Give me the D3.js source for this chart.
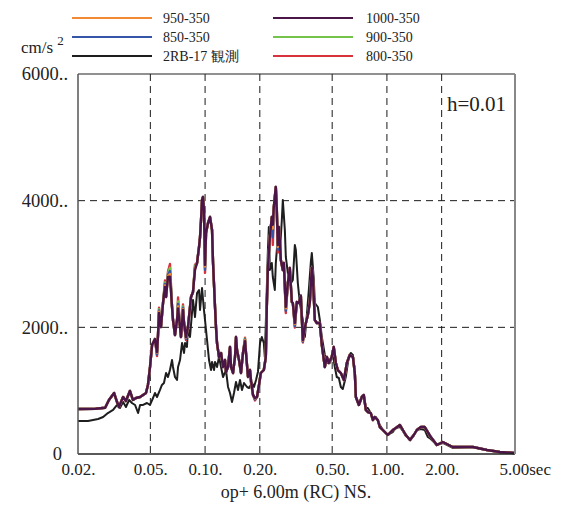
<!DOCTYPE html>
<html><head><meta charset="utf-8">
<script src="https://cdn.jsdelivr.net/npm/d3@7"></script>
<style>body{margin:0;background:#fff} svg{display:block} text{font-family:"Liberation Serif","DejaVu Serif","Noto Serif",serif}</style>
</head><body>
<svg id="c" width="567" height="505"></svg>
<script>
// ---- data ----
const periodsModel = [0.02,0.025,0.0282,0.0296,0.0316,0.0328,0.0336,0.0354,0.0367,0.0386,
0.0401,0.0417,0.0439,0.0456,0.0473,0.0485,0.0498,0.0511,0.0530,0.0544,
0.0551,0.0558,0.0572,0.0587,0.0602,0.0610,0.0625,0.0641,0.0658,0.0666,
0.0683,0.0701,0.0710,0.0728,0.0737,0.0756,0.0766,0.0785,0.0805,0.0837,
0.0858,0.0880,0.0903,0.0926,0.0938,0.0950,0.0962,0.0974,0.0986,0.0999,
0.1012,0.1038,0.1064,0.1092,0.1106,0.1134,0.1148,0.1163,0.1193,0.1224,
0.1255,0.1287,0.1303,0.1337,0.1371,0.1389,0.1424,0.1461,0.1479,0.1498,
0.1537,0.1576,0.1616,0.1658,0.1679,0.1722,0.1766,0.1789,0.1835,0.1882,
0.1930,0.1980,0.2025,0.2104,0.2158,0.2185,0.2213,0.2270,0.2328,0.2358,
0.2388,0.2449,0.2480,0.2512,0.2544,0.2576,0.2610,0.2676,0.2710,0.2780,
0.2852,0.2924,0.3000,0.3038,0.3116,0.3196,0.3278,0.3362,0.3448,0.3538,
0.3674,0.3768,0.3864,0.3914,0.4014,0.4116,0.4276,0.4386,0.4556,0.4674,
0.4790,0.4970,0.5100,0.5240,0.5370,0.5580,0.5800,0.6020,0.6250,0.6500,
0.6660,0.6750,0.7010,0.7280,0.7460,0.7660,0.7850,0.8150,0.8370,0.8580,
0.8910,0.9140,0.9500,0.9860,1.012,1.051,1.078,1.120,1.178,1.224,
1.270,1.340,1.406,1.461,1.537,1.616,1.679,1.744,1.882,2.030,
2.300,2.970,3.550,4.180,5.000];

const s1000_350 = [711,715,730,853,963,821,742,900,837,995,
853,884,900,932,963,1090,1374,1720,1816,1611,
1880,2226,2005,2384,2637,2479,2795,2800,2321,2116,
1879,2116,2300,2005,1847,2274,2068,1847,2005,2479,
2558,2905,3016,3268,3426,3695,4011,4058,3853,2984,
3490,3650,3742,3537,3016,2321,2005,1753,1532,1595,
1374,1484,1295,1374,1690,1374,1279,1532,1847,1642,
1484,1279,1595,1780,1595,1216,1326,1168,932,884,
900,1090,1279,1326,1532,2321,2905,3426,3742,3620,
3900,4216,3853,3300,3584,3379,3063,2905,3016,2321,
2700,2937,2400,2384,2068,2400,2384,2500,1800,2000,
2195,2400,2937,2800,2116,2068,2068,1721,1374,1532,
1437,1532,1690,1437,1326,1279,1168,1437,1563,1532,
1279,900,774,900,932,695,663,647,537,584,
537,426,379,332,300,347,379,411,458,379,
300,221,300,379,426,426,347,268,142,189,
111,111,63,32,16];

const s950_350 = [711,715,730,853,963,821,742,900,837,995,
853,884,900,932,963,1090,1374,1720,1816,1600,
1880,2245,2005,2384,2660,2479,2810,2840,2321,2116,
1879,2116,2330,2005,1847,2290,2068,1838,2005,2479,
2558,2925,3016,3268,3426,3695,4011,4058,3853,2960,
3490,3650,3742,3537,3016,2321,2005,1753,1532,1595,
1374,1484,1295,1374,1690,1374,1279,1532,1847,1642,
1484,1279,1595,1795,1595,1216,1326,1158,932,876,
900,1090,1279,1326,1532,2321,2905,3426,3742,3560,
3900,4216,3853,3270,3584,3379,3063,2905,3016,2300,
2700,2937,2400,2384,2050,2400,2384,2500,1790,2000,
2195,2400,2937,2800,2116,2068,2068,1721,1374,1532,
1437,1532,1690,1437,1326,1279,1168,1437,1563,1532,
1279,900,774,900,932,695,663,647,537,584,
537,426,379,332,300,347,379,411,458,379,
300,221,300,379,426,426,347,268,142,189,
111,111,63,32,16];

const s850_350 = [711,715,730,853,963,821,742,900,837,995,
853,884,900,932,963,1090,1374,1720,1816,1570,
1880,2265,2005,2384,2685,2479,2830,2890,2321,2116,
1879,2116,2370,2005,1847,2310,2068,1820,2005,2479,
2558,2945,3016,3268,3426,3695,4011,4058,3853,2910,
3490,3650,3742,3537,3016,2321,2005,1753,1532,1595,
1374,1484,1295,1374,1690,1374,1279,1532,1847,1642,
1484,1279,1595,1808,1595,1216,1326,1135,932,860,
900,1090,1279,1326,1532,2321,2905,3426,3742,3420,
3900,4216,3853,3220,3584,3379,3063,2905,3016,2260,
2700,2937,2400,2384,2020,2400,2384,2500,1775,2000,
2195,2400,2937,2800,2116,2068,2068,1721,1374,1532,
1437,1532,1690,1437,1326,1279,1168,1437,1563,1532,
1279,900,774,900,932,695,663,647,537,584,
537,426,379,332,300,347,379,411,458,379,
300,221,300,379,426,426,347,268,142,189,
111,111,63,32,16];

const s900_350 = [711,715,730,853,963,821,742,900,837,995,
853,884,900,932,963,1090,1374,1720,1816,1585,
1880,2285,2005,2384,2710,2479,2850,2940,2321,2116,
1879,2116,2410,2005,1847,2330,2068,1829,2005,2479,
2558,2965,3016,3268,3426,3695,4011,4058,3853,2935,
3490,3650,3742,3537,3016,2321,2005,1753,1532,1595,
1374,1484,1295,1374,1690,1374,1279,1532,1847,1642,
1484,1279,1595,1820,1595,1216,1326,1146,932,868,
900,1090,1279,1326,1532,2321,2905,3426,3742,3490,
3900,4216,3853,3245,3584,3379,3063,2905,3016,2280,
2700,2937,2400,2384,2035,2400,2384,2500,1782,2000,
2195,2400,2937,2800,2116,2068,2068,1721,1374,1532,
1437,1532,1690,1437,1326,1279,1168,1437,1563,1532,
1279,900,774,900,932,695,663,647,537,584,
537,426,379,332,300,347,379,411,458,379,
300,221,300,379,426,426,347,268,142,189,
111,111,63,32,16];

const s800_350 = [711,715,730,853,963,821,742,900,837,995,
853,884,900,932,963,1090,1374,1720,1816,1545,
1880,2310,2005,2384,2740,2479,2880,3000,2321,2116,
1879,2116,2470,2005,1847,2360,2068,1800,2005,2479,
2558,2990,3016,3268,3426,3695,4011,4058,3853,2860,
3490,3650,3742,3537,3016,2321,2005,1753,1532,1595,
1374,1484,1295,1374,1690,1374,1279,1532,1847,1642,
1484,1279,1595,1835,1595,1216,1326,1115,932,845,
900,1090,1279,1326,1532,2321,2905,3426,3742,3300,
3900,4216,3853,3180,3584,3379,3063,2905,3016,2225,
2700,2937,2400,2384,1995,2400,2384,2500,1760,2000,
2195,2400,2937,2800,2116,2068,2068,1721,1374,1532,
1437,1532,1690,1437,1326,1279,1168,1437,1563,1532,
1279,900,774,900,932,695,663,647,537,584,
537,426,379,332,300,347,379,411,458,379,
300,221,300,379,426,426,347,268,142,189,
111,111,63,32,16];

const periodsObs = [0.02,0.0227,0.0258,0.0275,0.0292,0.0312,0.0328,0.0340,0.0354,0.0367,
0.0382,0.0396,0.0412,0.0428,0.0439,0.0456,0.0479,0.0498,0.0517,0.0530,
0.0544,0.0565,0.0579,0.0594,0.0610,0.0625,0.0641,0.0658,0.0666,0.0683,
0.0701,0.0710,0.0728,0.0747,0.0766,0.0776,0.0795,0.0805,0.0826,0.0847,
0.0858,0.0880,0.0903,0.0926,0.0938,0.0962,0.0986,0.0999,0.1025,0.1051,
0.1078,0.1092,0.1120,0.1134,0.1163,0.1193,0.1224,0.1255,0.1303,0.1337,
0.1371,0.1406,0.1442,0.1479,0.1517,0.1556,0.1596,0.1637,0.1701,0.1744,
0.1811,0.1858,0.1906,0.1954,0.2005,0.2051,0.2104,0.2130,0.2158,0.2213,
0.2242,0.2270,0.2328,0.2358,0.2418,0.2449,0.2512,0.2576,0.2643,0.2676,
0.2746,0.2780,0.2852,0.2924,0.3038,0.3116,0.3156,0.3236,0.3320,0.3448,
0.3538,0.3628,0.3720,0.3816,0.3864,0.3964,0.4014,0.4170,0.4276,0.4386,
0.4556,0.4674,0.4854,0.5050,0.5170,0.5300,0.5440,0.5580,0.5720,0.5940,
0.6170,0.6330,0.6500,0.6660,0.6750,0.7010,0.7280,0.7460,0.7660,0.7850,
0.8150,0.8370,0.8690,0.9140,0.9500,0.9860,1.012,1.051,1.078,1.120,
1.178,1.224,1.270,1.340,1.406,1.461,1.537,1.616,1.679,1.744,
1.882,2.030,2.300,2.970,3.550,4.180,5.000];

const obs2RB17 = [521,521,553,584,647,695,774,726,821,742,
853,805,774,647,774,774,805,774,884,963,
900,1011,1090,1121,1279,1216,1326,1484,1374,1216,
1168,1374,1484,1753,1595,1753,1690,2005,1847,2226,
2432,2163,2542,2590,2274,2621,2274,2116,1800,1484,
1326,1453,1326,1453,1374,1532,1374,1216,1326,1058,
963,821,963,1137,1011,1168,1011,1121,1058,1042,
1121,1058,1168,1300,1753,1847,1753,1532,2068,3174,
3584,2905,3016,2795,2590,3016,3426,3174,3695,4011,
3537,3111,2858,2668,2747,3300,3221,2700,2384,2116,
1847,2195,2590,3030,3174,2747,2384,2321,2116,1847,
1563,1437,1437,1563,1374,1216,1200,1058,1026,1216,
1532,1595,1563,1326,900,774,916,932,726,726,
647,568,584,458,379,332,300,332,347,411,
426,363,284,237,300,379,395,379,268,237,
142,174,95,111,63,32,16];

const seriesNames = ["950-350","1000-350","850-350","900-350","2RB-17 観測","800-350"];
const seriesColors = ["#f28a35","#4a1548","#3556a8","#74c44c","#1e1e1e","#d8323c"];
const xTicks = [0.02,0.05,0.1,0.2,0.5,1,2,5];
const yTicks = [0,2000,4000,6000];
const xGridVals = [0.05,0.1,0.2,0.5,1,2];
const yGridVals = [2000,4000];

// ---- drawing ----
const FONT = "'Liberation Serif','DejaVu Serif','Noto Serif',serif";
const svg = d3.select("#c");
const x = d3.scaleLog().domain([0.02,5]).range([78,514]);
const y = d3.scaleLinear().domain([0,6000]).range([454,74]);

// grid
svg.append("g").selectAll("line").data(xGridVals).join("line")
  .attr("x1",d=>x(d)).attr("x2",d=>x(d)).attr("y1",y(6000)).attr("y2",y(0))
  .attr("stroke","#1a1a1a").attr("stroke-width",1).attr("stroke-dasharray","7,5");
svg.append("g").selectAll("line").data(yGridVals).join("line")
  .attr("y1",d=>y(d)).attr("y2",d=>y(d)).attr("x1",x(0.02)).attr("x2",x(5))
  .attr("stroke","#1a1a1a").attr("stroke-width",1).attr("stroke-dasharray","7,5");

// curves (farthest-deviating drawn first so stacked tips show)
const line = d3.line().x(d=>x(d[0])).y(d=>y(d[1]));
const mk = (p,v)=>p.map((t,i)=>[t,v[i]]);
const curves = [
  {data:mk(periodsObs,obs2RB17), color:seriesColors[4], w:2},
  {data:mk(periodsModel,s800_350), color:seriesColors[5], w:2.4},
  {data:mk(periodsModel,s900_350), color:seriesColors[3], w:2.4},
  {data:mk(periodsModel,s850_350), color:seriesColors[2], w:2.4},
  {data:mk(periodsModel,s950_350), color:seriesColors[0], w:2.4},
  {data:mk(periodsModel,s1000_350), color:seriesColors[1], w:2.4}
];
svg.append("g").selectAll("path").data(curves).join("path")
  .attr("d",d=>line(d.data)).attr("fill","none")
  .attr("stroke",d=>d.color).attr("stroke-width",d=>d.w).attr("stroke-linejoin","round");

// frame
svg.append("line").attr("x1",x(0.02)).attr("x2",x(5)+1).attr("y1",y(6000)).attr("y2",y(6000)).attr("stroke","#222").attr("stroke-width",1.2);
svg.append("line").attr("x1",x(0.02)).attr("x2",x(5)+1).attr("y1",y(0)).attr("y2",y(0)).attr("stroke","#222").attr("stroke-width",1.5);
svg.append("line").attr("x1",x(0.02)).attr("x2",x(0.02)).attr("y1",y(6000)).attr("y2",y(0)).attr("stroke","#555").attr("stroke-width",1.5);
svg.append("line").attr("x1",x(5)+1).attr("x2",x(5)+1).attr("y1",y(6000)).attr("y2",y(0)).attr("stroke","#888").attr("stroke-width",2);

// axes (labels only)
const xAxis = d3.axisBottom(x).tickValues(xTicks).tickSize(0).tickPadding(9)
  .tickFormat(d=> d===5 ? "5.00sec" : d3.format(".2f")(d)+".");
const gx = svg.append("g").attr("transform",`translate(0,${y(0)})`).call(xAxis);
gx.select(".domain").remove();
gx.selectAll("text").attr("font-family",FONT).attr("font-size",17).attr("fill","#222");
gx.selectAll("text").filter(d=>d===5).attr("text-anchor","start").attr("dx",-15);

const yAxis = d3.axisLeft(y).tickValues(yTicks).tickSize(0).tickPadding(10)
  .tickFormat(d=> d===0 ? "0" : d+"..");
const gy = svg.append("g").attr("transform",`translate(${x(0.02)},0)`).call(yAxis);
gy.select(".domain").remove();
gy.selectAll("text").attr("font-family",FONT).attr("font-size",18.5).attr("fill","#222");
gy.selectAll("text").filter(d=>d===0).attr("dx",-6);

// texts
svg.append("text").attr("x",296).attr("y",498).attr("text-anchor","middle")
  .attr("font-family",FONT).attr("font-size",18).attr("fill","#222").text("op+ 6.00m (RC) NS.");
svg.append("text").attr("x",447).attr("y",111)
  .attr("font-family",FONT).attr("font-size",21).attr("fill","#222").text("h=0.01");
const unit = svg.append("text").attr("x",21).attr("y",53).attr("font-family",FONT).attr("font-size",17).attr("fill","#222");
unit.append("tspan").text("cm/s ");
unit.append("tspan").attr("font-size",13).attr("dy",-8).text("2");

// legend
const legendPos = [[72,18],[273,18],[72,37],[273,37],[72,56],[273,56]];
const lg = svg.append("g").selectAll("g").data(seriesNames).join("g")
  .attr("transform",(d,i)=>`translate(${legendPos[i][0]},${legendPos[i][1]})`);
lg.append("line").attr("x1",0).attr("x2",80).attr("y1",0).attr("y2",0)
  .attr("stroke",(d,i)=>seriesColors[i]).attr("stroke-width",2.2);
lg.append("text").attr("x",(d,i)=> i%2===0 ? 91 : 93).attr("y",5)
  .attr("font-family",FONT.replace("serif","serif")+",'Noto Sans CJK JP'").attr("font-size",14).attr("fill","#222").text(d=>d);
</script>
</body></html>
